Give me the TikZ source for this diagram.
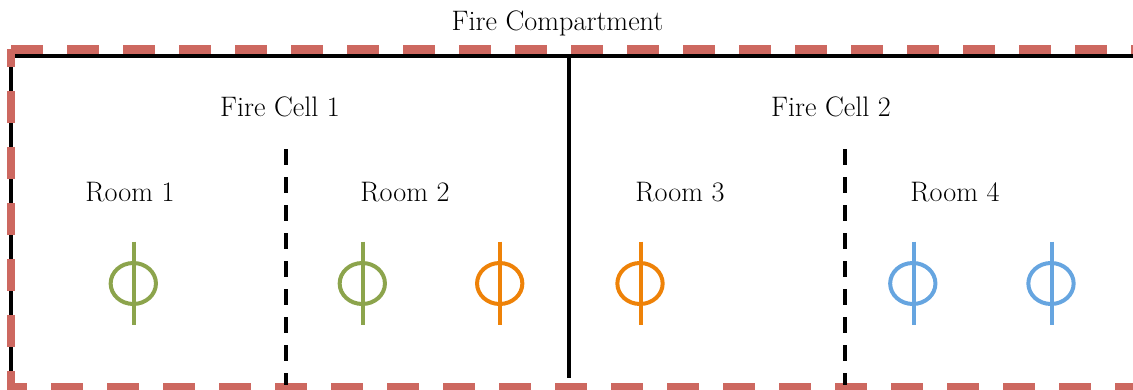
\documentclass[tikz,border=0pt]{standalone}
\usetikzlibrary{shapes.geometric}
\definecolor{redline}{HTML}{CD6860}
\definecolor{greensym}{HTML}{8CA44C}
\definecolor{orangesym}{HTML}{EE8208}
\definecolor{bluesym}{HTML}{66A5E0}
\tikzset{
  x=1pt,y=-1pt,
  label text/.style={anchor=base,inner sep=0pt,font=\fontsize{28.2}{32}\selectfont,text=black},
  red boundary/.style={draw=redline,line width=8.4pt},
  wall/.style={draw=black,line width=4pt},
  door wall/.style={draw=black,line width=4pt,dash pattern=on 16pt off 12pt},
  sym/.style={ellipse,draw=#1,line width=4pt,inner sep=0pt,outer sep=0pt,minimum width=45.3pt,minimum height=41pt},
  sym bar/.style={draw=#1,line width=4pt}
}
\begin{document}
\begin{tikzpicture}
\useasboundingbox (0,0) rectangle (1133,389);
% anchors
\coordinate (tl) at (11,56);
\coordinate (tr) at (1140,56);
\coordinate (bl) at (11,391);
\coordinate (midT) at (569,56);
\coordinate (midB) at (569,378);
\coordinate (d1T) at (286,149);
\coordinate (d1B) at (286,385);
\coordinate (d2T) at (844.5,149);
\coordinate (d2B) at (844.5,385);
\coordinate (rtl) at (11,49.5);
\coordinate (rtr) at (1140,49.5);
\coordinate (rlt) at (11,49);
\coordinate (rlb) at (11,391);
\coordinate (rbl) at (7,387);
\coordinate (rbr) at (1140,387);
% solid walls
\draw[wall] (tl) -- (tr);
\draw[wall,line width=3.6pt] (tl) -- (bl);
\draw[wall] (midT) -- (midB);
% fire compartment boundary
\draw[red boundary,dash pattern=on 32pt off 24pt] (rtl) -- (rtr);
\draw[red boundary,dash pattern=on 32pt off 24pt,dash phase=12pt] (rlb) -- (rlt);
\draw[red boundary,dash pattern=on 32pt off 24pt,dash phase=12pt] (rbl) -- (rbr);
% room partitions
\draw[door wall] (d1T) -- (d1B);
\draw[door wall] (d2T) -- (d2B);
% labels
\node[label text] (fc) at (557.5,30) {Fire Compartment};
\node[label text] (c1) at (280,116) {Fire Cell 1};
\node[label text] (c2) at (831,116) {Fire Cell 2};
\node[label text] (r1) at (130,201.7) {Room 1};
\node[label text] (r2) at (405,201.7) {Room 2};
\node[label text] (r3) at (680,201.7) {Room 3};
\node[label text] (r4) at (955,201.7) {Room 4};
% symbols
\foreach \n/\px/\col in {s1/133.3/greensym,s2/362.3/greensym,s3/499.7/orangesym,s4/640/orangesym,s5/912.8/bluesym,s6/1051/bluesym}{
  \node[sym=\col] (\n) at (\px,283.5) {};
  \draw[sym bar=\col] ([xshift=0.7pt,yshift=41.8pt]\n.center) -- ([xshift=0.7pt,yshift=-41.8pt]\n.center);
}
\end{tikzpicture}
\end{document}
